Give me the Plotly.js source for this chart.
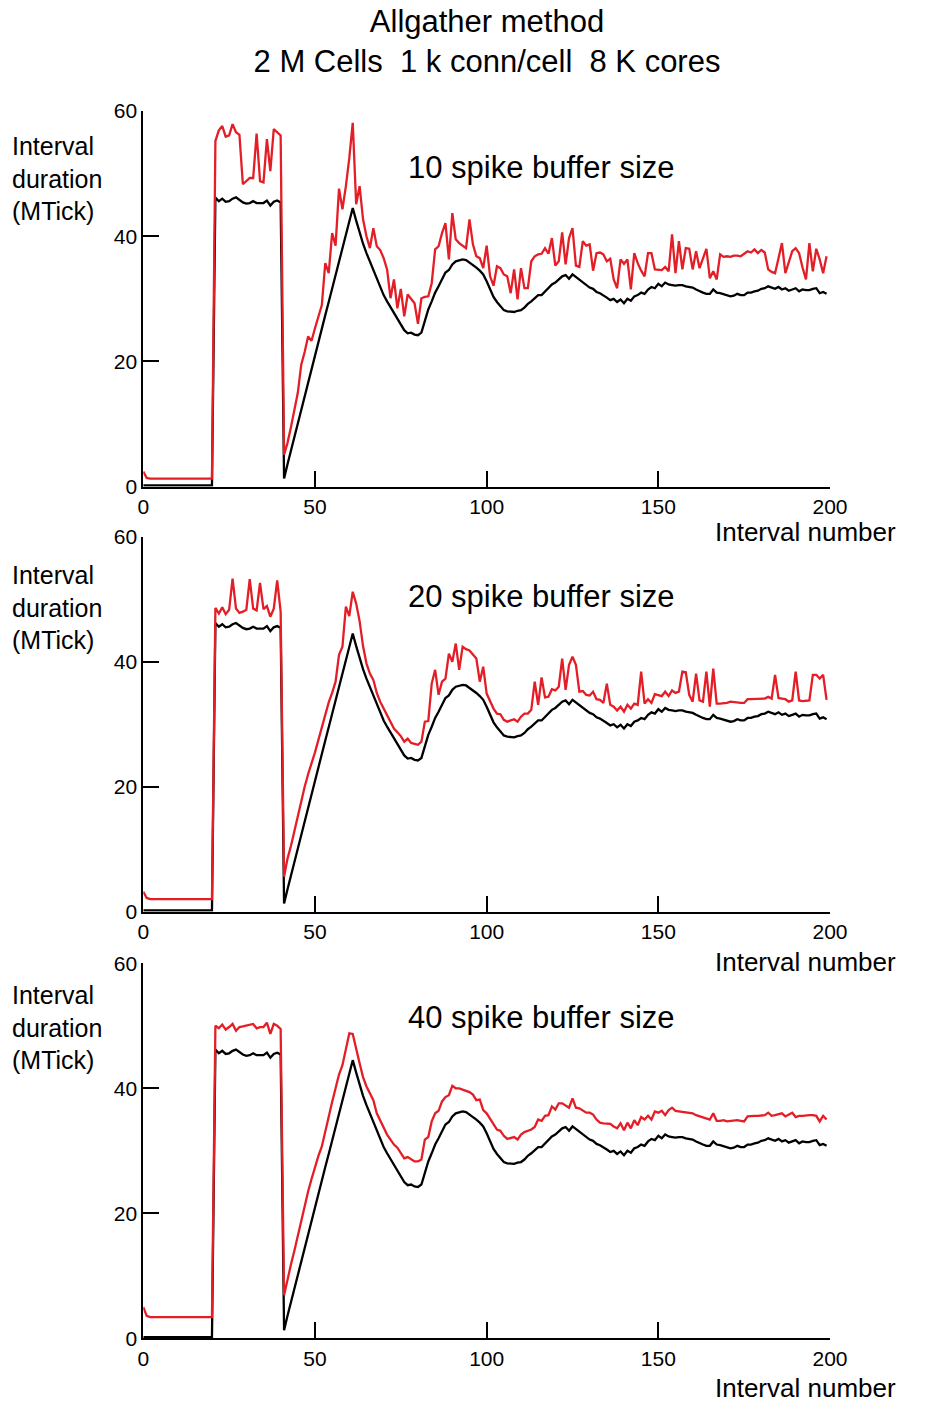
<!DOCTYPE html>
<html>
<head>
<meta charset="utf-8">
<script src="https://cdn.plot.ly/plotly-3.0.1.min.js"></script>
<style>html,body{margin:0;padding:0;background:#fff;}#chart{width:925px;height:1402px;}</style>
</head>
<body>
<div id="chart"></div>
<script>
// Interval numbers (x categories)
const intervalNumber = Array.from({length: 200}, (_, i) => i);

// Black series: baseline interval duration (MTick), same in all three panels
const baseline = [
 0.2,0.2,0.2,0.2,0.2,0.2,0.2,0.2,0.2,0.2,
 0.2,0.2,0.2,0.2,0.2,0.2,0.2,0.2,0.2,0.2,
 0.2,46.2,45.6,46.0,45.5,45.6,46.0,46.2,45.8,45.4,
 45.2,45.3,45.6,45.3,45.3,45.3,45.7,44.9,45.5,45.7,
 45.4,1.3,3.6,5.8,8.0,10.2,12.4,14.5,16.7,18.9,
 21.1,23.2,25.3,27.4,29.5,31.6,33.7,35.8,37.9,40.1,
 42.3,44.5,42.5,40.5,38.8,37.3,36.0,34.7,33.2,31.8,
 30.6,29.6,28.7,27.7,26.7,25.8,25.0,24.5,24.6,24.3,
 24.2,24.6,26.5,28.3,29.6,31.0,32.0,33.2,34.2,34.6,
 35.5,36.0,36.2,36.3,36.2,35.8,35.5,35.0,34.5,33.9,
 32.8,31.5,30.3,29.5,28.8,28.2,28.0,28.0,27.9,28.1,
 28.2,28.6,29.2,29.6,30.1,30.6,30.6,31.2,31.8,32.3,
 32.6,33.1,33.6,33.8,33.2,33.9,33.5,33.0,32.6,32.3,
 31.8,31.6,31.1,30.9,30.6,30.2,29.8,30.0,29.5,29.9,
 29.3,30.0,29.7,30.4,30.6,31.0,30.8,31.5,31.9,31.7,
 32.4,32.0,32.6,32.3,32.2,32.1,32.2,32.2,32.0,31.9,
 31.8,31.5,31.2,31.0,30.8,30.8,31.5,31.0,30.9,30.7,
 30.5,30.4,30.5,30.8,30.6,30.6,31.0,31.0,31.2,31.3,
 31.6,31.7,32.0,31.8,31.6,31.9,31.5,31.7,31.3,31.5,
 31.7,31.2,31.5,31.4,31.4,31.6,31.7,30.9,31.1,30.8
];

// Red series: 10 spike buffer size
const buffer10 = [
 2.4,1.4,1.3,1.3,1.3,1.3,1.3,1.3,1.3,1.3,
 1.3,1.3,1.3,1.3,1.3,1.3,1.3,1.3,1.3,1.3,
 1.3,55.2,56.9,57.6,55.9,56.1,57.9,56.6,56.2,48.3,
 48.8,49.3,49.3,56.4,48.8,48.6,55.5,50.4,57.1,56.6,
 56.1,5.1,7.0,9.5,12.0,15.0,19.5,21.5,24.0,23.3,
 25.3,27.0,29.0,35.7,34.1,40.5,38.5,47.6,44.3,48.0,
 52.5,58.1,45.1,48.0,42.7,40.0,38.1,41.3,38.4,37.8,
 36.5,34.7,30.1,33.1,28.5,31.6,27.2,30.7,30.0,29.3,
 26.0,30.1,30.3,30.4,32.5,37.9,38.4,40.5,42.1,36.3,
 43.7,39.5,38.9,38.5,38.1,42.7,38.7,36.8,36.5,34.9,
 38.5,33.6,32.1,35.2,34.9,33.9,33.6,30.9,34.7,29.9,
 34.9,31.7,31.7,36.0,36.8,37.1,37.2,38.1,37.2,39.7,
 35.3,36.0,40.6,35.5,39.7,41.3,35.3,35.1,39.2,38.5,
 38.7,34.5,37.3,37.4,37.1,36.0,36.4,33.1,31.7,36.3,
 35.6,36.3,31.5,37.3,35.7,34.5,33.6,37.3,37.3,34.7,
 34.6,34.6,35.1,34.4,40.3,34.1,39.2,34.7,38.1,38.0,
 34.7,37.6,34.9,36.5,38.0,33.3,34.4,33.1,37.1,36.7,
 36.8,36.7,36.9,36.9,36.8,37.2,37.6,37.4,37.9,37.3,
 37.8,37.4,34.7,34.3,34.1,36.5,38.9,34.1,36.0,37.6,
 38.1,37.3,35.0,33.1,38.9,34.4,38.0,36.3,34.1,36.8
];

// Red series: 20 spike buffer size
const buffer20 = [
 3.2,2.2,2.0,2.0,2.0,2.0,2.0,2.0,2.0,2.0,
 2.0,2.0,2.0,2.0,2.0,2.0,2.0,2.0,2.0,2.0,
 2.0,48.6,47.7,48.7,47.6,48.3,53.3,48.5,47.8,48.0,
 48.3,53.2,48.5,48.2,52.6,48.4,48.9,47.2,48.5,53.0,
 48.0,5.6,8.5,10.5,13.0,15.5,17.5,20.0,22.0,23.7,
 25.5,27.5,29.5,31.5,33.5,35.0,36.8,41.1,42.4,48.8,
 47.3,51.2,49.3,46.5,42.5,39.7,38.1,37.1,35.0,33.6,
 32.5,31.5,30.2,29.3,28.7,28.1,27.2,27.7,27.0,26.8,
 26.7,27.2,30.4,30.5,36.5,38.7,34.7,36.8,37.3,41.3,
 40.0,42.9,38.7,42.4,42.0,41.8,41.1,40.5,36.8,39.2,
 34.9,33.6,32.5,31.7,31.6,30.7,30.4,30.6,30.8,30.4,
 31.2,31.7,31.7,32.3,36.8,33.1,37.5,34.3,34.4,35.6,
 35.4,36.0,40.5,35.5,39.5,40.8,39.5,35.2,35.3,34.7,
 34.6,35.2,34.0,33.9,33.4,36.5,33.1,32.8,32.2,32.8,
 32.0,33.1,32.5,33.3,33.1,38.4,33.3,34.0,33.4,34.8,
 34.7,34.5,35.2,34.5,35.4,35.0,35.2,38.4,38.3,34.7,
 33.6,38.1,33.8,33.6,38.4,32.8,38.9,33.3,33.3,33.3,
 33.4,33.6,33.5,33.5,33.4,33.4,34.0,34.0,34.0,34.0,
 34.0,34.1,34.4,34.1,37.9,34.2,34.1,34.0,33.6,33.8,
 38.4,33.8,33.7,33.8,33.8,37.9,37.9,37.3,37.9,33.9
];

// Red series: 40 spike buffer size
const buffer40 = [
 5.0,3.6,3.4,3.4,3.4,3.4,3.4,3.4,3.4,3.4,
 3.4,3.4,3.4,3.4,3.4,3.4,3.4,3.4,3.4,3.4,
 3.4,50.0,49.6,50.2,49.4,49.8,50.3,49.2,49.8,49.9,
 50.0,50.2,50.3,49.6,49.8,49.8,50.5,48.7,50.3,50.0,
 49.5,6.9,9.5,11.8,14.0,16.5,18.5,21.0,23.5,25.5,
 27.5,29.2,30.7,33.2,35.7,37.8,40.0,42.2,43.7,46.5,
 48.8,48.7,46.1,44.0,41.8,40.3,39.2,38.1,36.0,34.9,
 33.6,32.6,31.8,31.0,30.5,29.7,28.8,29.0,28.7,28.3,
 28.3,28.6,31.8,32.2,34.7,36.0,36.4,37.9,38.6,38.9,
 40.4,40.0,40.0,39.8,39.6,39.4,39.0,38.1,38.2,36.5,
 36.0,35.2,34.2,33.4,33.2,32.4,31.9,32.0,32.2,31.8,
 32.6,33.0,33.2,33.4,33.8,35.0,34.8,35.6,35.7,37.1,
 36.6,37.6,37.6,37.3,36.9,38.4,36.9,36.8,36.5,36.1,
 36.1,35.8,35.0,34.5,34.4,34.3,34.3,33.9,33.6,34.4,
 33.3,34.5,33.6,34.9,34.1,35.4,35.0,35.6,35.0,36.3,
 36.1,36.4,35.7,36.5,36.9,36.4,36.3,36.2,36.1,36.0,
 36.0,35.7,35.5,35.3,35.2,35.0,36.0,34.8,34.8,34.9,
 34.7,34.8,34.8,34.9,34.8,34.7,35.5,35.6,35.6,35.6,
 35.7,35.7,36.1,35.6,35.7,35.8,36.0,35.5,35.8,36.1,
 35.4,35.6,35.6,35.7,35.7,35.7,35.6,34.7,35.6,35.0
];

const panelTitles = ['10 spike buffer size', '20 spike buffer size', '40 spike buffer size'];
const redTotals = ['7.84 sec', '7.57 sec', '7.73 sec'];
const blackTotals = ['6.76 sec', '6.76 sec', '6.78 sec'];
const redSeries = [buffer10, buffer20, buffer40];
const xTicks = [0, 50, 100, 150, 200];
const yTicks = [0, 20, 40, 60];

// layout geometry (pixels in a 925x1402 page)
const W = 925, H = 1402;
const FONT = 'Liberation Sans, Arial, Helvetica, sans-serif';
const RED = '#e41e26';
const xDom = [143.3 / W, 830 / W];
const panelPix = [[486.7, 111], [911.7, 536.7], [1338.3, 963.3]]; // [y0 pixel, y60 pixel]
const redLabelY = [35.9, 34.5, 35.2];
const blackLabelY = [31.1, 30.9, 31.2];
const subtitleY = [51.0, 50.4, 51.4];
const xTitlePix = [532, 962, 1388];
const yTitlePix = [179, 607, 1027];

const data = [];
const layout = {
  width: W, height: H,
  margin: {l: 0, r: 0, t: 0, b: 0},
  paper_bgcolor: '#fff', plot_bgcolor: '#fff',
  showlegend: false,
  font: {family: FONT, color: '#000'},
  title: {
    text: 'Allgather method<br>2 M Cells\u00a0 1 k conn/cell\u00a0 8 K cores',
    font: {family: FONT, size: 31, color: '#000'},
    x: 487 / W, xanchor: 'center', xref: 'paper',
    y: 1 - 31.5 / H, yanchor: 'middle', yref: 'container'
  },
  annotations: []
};

for (let p = 0; p < 3; p++) {
  const sx = p === 0 ? '' : String(p + 1);
  const xa = 'x' + sx, ya = 'y' + sx;
  data.push({x: intervalNumber, y: baseline, xaxis: xa, yaxis: ya, type: 'scatter', mode: 'lines',
             line: {color: '#000', width: 2.3}, hoverinfo: 'skip'});
  data.push({x: intervalNumber, y: redSeries[p], xaxis: xa, yaxis: ya, type: 'scatter', mode: 'lines',
             line: {color: RED, width: 2.3}, hoverinfo: 'skip'});
  const [p0, p60] = panelPix[p];
  layout['xaxis' + sx] = {
    domain: xDom, anchor: ya, range: [0, 200], tickvals: xTicks, ticktext: xTicks.map(String),
    showline: true, linecolor: '#000', linewidth: 2, ticks: 'inside', ticklen: 16, tickwidth: 2,
    tickcolor: '#000', showgrid: false, zeroline: false, tickfont: {size: 21, family: FONT, color: '#000'}
  };
  layout['yaxis' + sx] = {
    domain: [1 - p0 / H, 1 - p60 / H], anchor: xa, range: [0, 60], tickvals: yTicks, ticktext: yTicks.map(String),
    showline: true, linecolor: '#000', linewidth: 2, ticks: 'inside', ticklen: 16, tickwidth: 2,
    tickcolor: '#000', showgrid: false, zeroline: false, tickfont: {size: 21, family: FONT, color: '#000'}
  };
  layout.annotations.push({xref: xa, yref: ya, x: 116.1, y: subtitleY[p], text: panelTitles[p],
    showarrow: false, xanchor: 'center', yanchor: 'middle', font: {size: 31, family: FONT, color: '#000'}});
  layout.annotations.push({xref: xa, yref: ya, x: 201.8, y: redLabelY[p], text: redTotals[p],
    showarrow: false, xanchor: 'left', yanchor: 'middle', font: {size: 21, family: FONT, color: '#000'}});
  layout.annotations.push({xref: xa, yref: ya, x: 201.8, y: blackLabelY[p], text: blackTotals[p],
    showarrow: false, xanchor: 'left', yanchor: 'middle', font: {size: 21, family: FONT, color: '#000'}});
  layout.annotations.push({xref: 'paper', yref: 'paper', x: 898 / W, y: 1 - xTitlePix[p] / H, text: 'Interval number',
    showarrow: false, xanchor: 'right', yanchor: 'middle', font: {size: 26, family: FONT, color: '#000'}});
  layout.annotations.push({xref: 'paper', yref: 'paper', x: 10 / W, y: 1 - yTitlePix[p] / H,
    text: 'Interval<br>duration<br>(MTick)', align: 'left',
    showarrow: false, xanchor: 'left', yanchor: 'middle', font: {size: 25, family: FONT, color: '#000'}});
}

Plotly.newPlot('chart', data, layout, {displayModeBar: false, staticPlot: true});
</script>
</body>
</html>
